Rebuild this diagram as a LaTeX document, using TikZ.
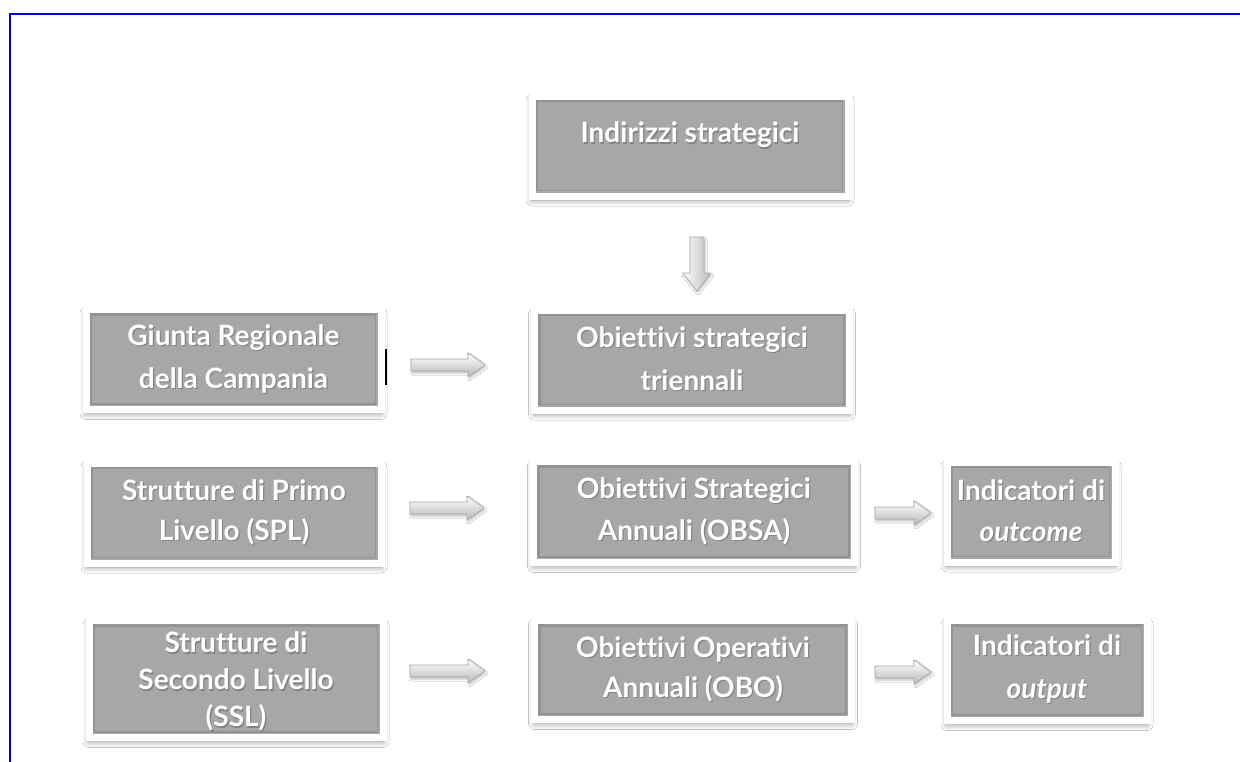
\documentclass[tikz,border=0pt]{standalone}
\usepackage{fontspec}
\setmainfont{Lato}[Ligatures=NoCommon]
\usetikzlibrary{calc,shadows.blur}
\definecolor{boxgray}{HTML}{A7A7A7}
\definecolor{edgegray}{HTML}{939393}
\definecolor{frameblue}{HTML}{0000CC}
\tikzset{
  card/.style={rectangle, draw=white, line width=7pt, fill=boxgray, inner sep=0pt,
    blur shadow={shadow xshift=0pt, shadow yshift=-4pt, shadow blur steps=8, shadow opacity=45, shadow blur radius=6pt},
    path picture={\draw[edgegray, line width=2.5pt]
      ([shift={(4.8pt,4.8pt)}]path picture bounding box.south west) rectangle
      ([shift={(-4.8pt,-4.8pt)}]path picture bounding box.north east);
      \draw[boxgray!80!black!70, line width=1.2pt]
      ([shift={(4.2pt,4.2pt)}]path picture bounding box.south west) -- 
      ([shift={(-4.2pt,4.2pt)}]path picture bounding box.south east) --
      ([shift={(-4.2pt,-4.2pt)}]path picture bounding box.north east);}},
  cardtxt/.style={align=center, inner sep=0pt, text=white},
  txtshadow/.style={cardtxt, text=black!80, opacity=0.3},
  fatarrow/.style={draw=gray!70, line width=0.6pt, top color=white, bottom color=gray!55,
    blur shadow={shadow xshift=1pt, shadow yshift=-2pt, shadow blur steps=5, shadow opacity=25, shadow blur radius=2pt}},
  fatarrowv/.style={fatarrow, left color=white, right color=gray!55}
}
% text with soft dark shadow: name, position, baselineskip, text
\newcommand\cardlabel[4]{%
  \node[txtshadow, xshift=1.2pt, yshift=-1.6pt, font=\bfseries\fontsize{28}{#3}\selectfont] at #2 {#4};
  \node[cardtxt, font=\bfseries\fontsize{28}{#3}\selectfont] (#1) at #2 {#4};}
% horizontal block arrow: x1, x2, y
\newcommand\harrow[3]{%
  \path[fatarrow] (#1,#3-6) -- (#2-17,#3-6) -- (#2-17,#3-12) -- (#2,#3) -- (#2-17,#3+12)
    -- (#2-17,#3+6) -- (#1,#3+6) -- cycle;}
% vertical block arrow: x, y1, y2
\newcommand\varrow[3]{%
  \path[fatarrowv] (#1-7,#2) -- (#1+7,#2) -- (#1+7,#3-18) -- (#1+14,#3-18) -- (#1,#3)
    -- (#1-14,#3-18) -- (#1-7,#3-18) -- cycle;}
\begin{document}
\begin{tikzpicture}[x=1pt,y=-1pt]
\useasboundingbox (0,0) rectangle (1240,761);
\fill[white] (0,0) rectangle (1240,761);
\draw[frameblue, line width=2.5pt] (10,775) -- (10,14) -- (1255,14);

% boxes
\node[card, minimum width=316pt, minimum height=100pt] (ind)    at (690,146) {};
\node[card, minimum width=295pt, minimum height=100pt] (giunta) at (233.5,359.5) {};
\node[card, minimum width=315pt, minimum height=100pt] (ost)    at (692,360) {};
\node[card, minimum width=294pt, minimum height=100pt] (spl)    at (234,513) {};
\node[card, minimum width=321pt, minimum height=101pt] (obsa)   at (694,512) {};
\node[card, minimum width=168pt, minimum height=100pt] (outc)   at (1031,512) {};
\node[card, minimum width=294pt, minimum height=117pt] (ssl)    at (236,679) {};
\node[card, minimum width=317pt, minimum height=99pt]  (obo)    at (693,670) {};
\node[card, minimum width=200pt, minimum height=100pt] (outp)   at (1047,670.5) {};

% texts
\cardlabel{indt}{(690,135)}{41}{Indirizzi strategici}
\cardlabel{giuntat}{(233.5,358.5)}{43}{Giunta Regionale\\della Campania}
\cardlabel{ostt}{(692,358.5)}{43}{Obiettivi strategici\\triennali}
\cardlabel{splt}{(234,512)}{40}{Strutture di Primo\\Livello (SPL)}
\cardlabel{obsat}{(694,511)}{42}{Obiettivi Strategici\\Annuali (OBSA)}
\cardlabel{outct}{(1031,510.5)}{41}{Indicatori di\\\textit{outcome}}
\cardlabel{sslt}{(236,681.5)}{37}{Strutture di\\Secondo Livello\\(SSL)}
\cardlabel{obot}{(693,669)}{40}{Obiettivi Operativi\\Annuali (OBO)}
\cardlabel{outpt}{(1047,668.5)}{43}{Indicatori di\\\textit{output}}

% block arrows
\varrow{697}{237}{291}
\harrow{411}{485}{365}
\harrow{410}{484}{508}
\harrow{410}{485}{671}
\harrow{875}{931}{513}
\harrow{875}{931}{672}

% small cursor mark
\draw[black, line width=1.6pt] (386,349) -- (386,385);
\end{tikzpicture}
\end{document}
